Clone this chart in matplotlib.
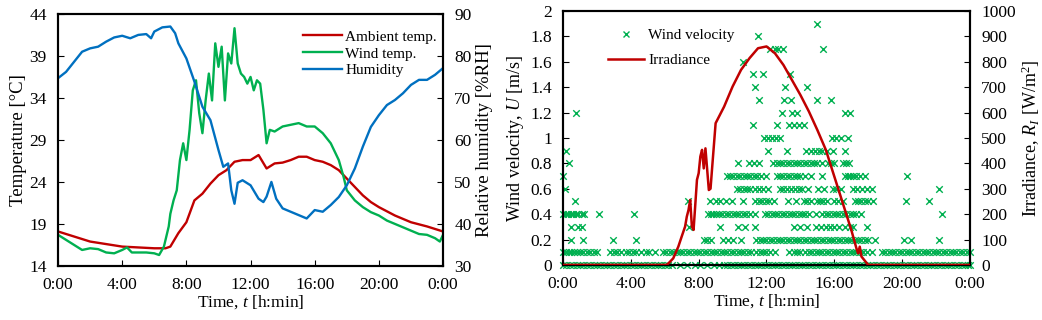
import matplotlib
matplotlib.use("Agg")
import matplotlib.pyplot as plt
from matplotlib.lines import Line2D

plt.rcParams["font.family"] = "Liberation Serif"
plt.rcParams["mathtext.fontset"] = "custom"
plt.rcParams["mathtext.rm"] = "Liberation Serif"
plt.rcParams["mathtext.it"] = "Liberation Serif:italic"
plt.rcParams["font.size"] = 12

RED = "#C00000"
GREEN = "#00B050"
BLUE = "#0070C0"

# ---- left chart data (time in hours) ----
amb_t = [0, 1, 2, 3, 4, 5, 6, 6.7, 7, 7.5, 8, 8.5, 9, 9.5, 10, 10.5, 11, 11.5, 12, 12.5,
         13, 13.5, 14, 14.5, 15, 15.5, 16, 16.5, 17, 17.5, 18, 18.5, 19, 19.5, 20, 21, 22, 23, 24]
amb_v = [18.1, 17.5, 16.9, 16.6, 16.3, 16.2, 16.1, 16.1, 16.3, 17.9, 19.2, 21.8, 22.6, 23.8, 24.8,
         25.4, 26.4, 26.6, 26.6, 27.2, 25.6, 26.2, 26.3, 26.6, 27.0, 27.0, 26.6, 26.4, 26.0, 25.4,
         24.4, 23.4, 22.4, 21.6, 21.0, 20.0, 19.2, 18.7, 18.1]

wind_t = [0, 0.5, 1, 1.5, 2, 2.5, 3, 3.5, 4, 4.3, 4.6, 5, 5.5, 6, 6.3, 6.6, 6.9, 7.0, 7.2, 7.4,
          7.6, 7.8, 8.0, 8.2, 8.4, 8.6, 8.8, 9.0, 9.2, 9.4, 9.6, 9.8, 10.0, 10.2, 10.4, 10.6,
          10.8, 11.0, 11.2, 11.4, 11.6, 11.8, 12.0, 12.2, 12.4, 12.6, 12.8, 13.0, 13.2, 13.5,
          14, 14.5, 15, 15.5, 16, 16.5, 17, 17.5, 17.8, 18, 18.5, 19, 19.5, 20, 20.5, 21, 21.5,
          22, 22.5, 23, 23.5, 23.8, 24]
wind_v = [17.7, 17.1, 16.5, 15.9, 16.1, 16.0, 15.6, 15.5, 15.9, 16.2, 15.6, 15.6, 15.6, 15.5, 15.3,
          16.3, 18.7, 20.2, 21.8, 23.0, 26.6, 28.6, 26.6, 30.2, 34.9, 36.1, 32.2, 29.8, 33.7, 36.9,
          33.7, 40.5, 37.7, 40.1, 33.7, 39.3, 38.1, 42.3, 38.1, 36.9, 36.5, 35.7, 36.5, 34.9, 36.1,
          35.7, 32.6, 28.6, 30.2, 30.0, 30.6, 30.8, 31.0, 30.6, 30.6, 29.8, 28.6, 26.6, 24.6, 23.0,
          21.8, 21.0, 20.4, 20.0, 19.4, 19.0, 18.6, 18.2, 17.8, 17.7, 17.3, 16.9, 17.7]

hum_t = [0, 0.5, 1, 1.5, 2, 2.5, 3, 3.5, 4, 4.5, 5, 5.5, 5.8, 6, 6.5, 7, 7.3, 7.5, 8, 8.5, 9,
         9.5, 10, 10.3, 10.6, 10.8, 11, 11.2, 11.5, 12, 12.5, 12.8, 13, 13.3, 13.6, 14, 14.5,
         15, 15.5, 16, 16.5, 17, 17.5, 18, 18.5, 19, 19.5, 20, 20.5, 21, 21.5, 22, 22.5, 23,
         23.5, 24]
hum_v = [74.7, 76.2, 78.6, 81.0, 81.8, 82.2, 83.4, 84.4, 84.8, 84.2, 85.0, 85.2, 84.2, 85.8, 86.8,
         87.0, 85.4, 83.0, 79.4, 73.9, 67.9, 64.7, 57.6, 53.6, 54.4, 48.0, 44.8, 49.8, 50.4, 49.2,
         46.0, 45.2, 46.5, 50.0, 46.0, 43.7, 42.9, 42.1, 41.3, 43.3, 42.9, 44.5, 46.4, 49.2, 53.2,
         58.4, 63.1, 65.9, 68.3, 69.5, 71.1, 73.1, 74.3, 74.3, 75.5, 77.1]

# ---- right chart data ----
irr_t = [0, 6.1, 6.2, 6.5, 6.8, 7.0, 7.2, 7.3, 7.4, 7.5, 7.6, 7.7, 7.9, 8.0, 8.1, 8.2, 8.3,
         8.4, 8.6, 8.7, 8.8, 9.0, 9.5, 10, 10.5, 11, 11.5, 12, 12.5, 13, 13.5, 14, 14.5, 15,
         15.5, 16, 16.5, 17, 17.3, 17.4, 17.5, 17.6, 18, 24]
irr_v = [0, 0, 5, 26, 72, 112, 151, 190, 216, 256, 151, 138, 335, 361, 427, 453, 380, 459, 295,
         300, 387, 558, 623, 702, 768, 814, 853, 860, 833, 787, 728, 669, 604, 531, 453, 348,
         243, 138, 66, 46, 72, 33, 0, 0]

# wind velocity samples: times (h) at which each level was recorded
u_000 = [0.0, 0.2, 0.4, 0.6, 0.8, 1.0, 1.2, 1.4, 1.6, 1.8, 2.0, 2.2, 2.4, 2.6, 2.8, 3.0, 3.2,
         3.4, 3.6, 3.8, 4.0, 4.2, 4.4, 4.6, 4.8, 5.0, 5.2, 5.4, 5.6, 5.8, 6.0, 6.2, 6.4, 6.9,
         7.3, 7.8, 8.1, 8.5, 8.9, 9.2, 9.5, 9.7, 9.9, 10.1, 10.3, 10.5, 10.7, 10.9, 11.1, 11.3,
         11.5, 11.7, 11.9, 12.1, 12.3, 12.5, 12.7, 12.9, 13.1, 13.3, 13.5, 13.7, 13.9, 14.1,
         14.3, 14.5, 14.7, 14.9, 15.1, 15.3, 15.5, 15.7, 15.9, 16.1, 16.3, 16.5, 16.7, 16.9,
         17.1, 17.3, 17.5, 17.7, 17.9, 18.1, 18.3, 18.5, 18.7, 18.9, 19.1, 19.3, 19.5, 19.7,
         19.9, 20.1, 20.3, 20.5, 20.7, 20.9, 21.1, 21.3, 21.5, 21.7, 21.9, 22.1, 22.3, 22.5,
         22.7, 22.9, 23.1, 23.3, 23.5, 23.7, 23.9, 24.0]
u_010 = [0.0, 0.2, 0.35, 0.5, 0.65, 0.8, 1.0, 1.2, 1.4, 1.6, 1.8, 2.0, 2.8, 3.0, 3.2, 3.45, 3.7,
         3.9, 4.1, 4.3, 4.6, 4.9, 5.1, 5.4, 5.9, 6.1, 6.3, 6.5, 6.7, 6.9, 7.1, 7.3, 7.5, 7.7, 7.9,
         8.1, 8.3, 8.5, 8.7, 8.9, 9.1, 9.3, 9.5, 9.7, 9.9, 10.1, 10.3, 10.5, 10.7, 10.9, 11.1,
         11.4, 11.6, 11.8, 12.0, 12.2, 12.5, 13.3, 13.6, 13.8, 14.0, 14.3, 14.5, 14.7, 14.9,
         15.1, 15.3, 15.5, 15.7, 15.9, 16.1, 16.3, 16.5, 16.7, 16.9, 17.1, 17.3, 17.5, 17.7,
         17.9, 18.2, 18.8, 19.0, 19.2, 19.4, 19.6, 19.8, 20.0, 20.2, 20.4, 20.6, 20.8, 21.0,
         21.2, 21.4, 21.6, 21.8, 22.0, 22.2, 22.4, 22.6, 22.8, 23.0, 23.2, 23.4, 23.6, 23.8, 24.0]
u_020 = [0.45, 1.2, 2.95, 4.3, 8.3, 8.5, 8.75, 9.45, 9.75, 10.0, 10.5, 11.4, 11.6, 11.8, 12.0,
         12.2, 12.4, 12.6, 12.8, 13.0, 13.2, 13.4, 13.6, 13.8, 14.0, 14.2, 14.4, 14.6, 14.8, 15.0,
         15.2, 15.4, 15.6, 15.8, 16.0, 16.2, 16.4, 16.6, 16.8, 17.0, 17.2, 17.4, 17.6, 17.8, 18.0,
         18.4, 20.1, 20.55, 22.2]
u_030 = [0.45, 0.9, 1.15, 7.45, 9.25, 10.3, 10.75, 11.3, 13.6, 14.0, 14.4, 14.9, 15.2, 15.5,
         15.75, 16.0, 16.3, 16.6, 16.9, 17.1, 17.9]
u_040 = [0.0, 0.15, 0.3, 0.45, 0.6, 0.75, 0.9, 1.1, 1.25, 2.15, 4.2, 8.55, 8.7, 8.85, 9.0, 9.2,
         9.4, 9.6, 9.8, 10.0, 10.2, 10.4, 10.6, 10.8, 11.0, 11.3, 11.9, 12.1, 12.3, 12.5, 12.7,
         12.9, 13.1, 13.3, 13.5, 13.7, 13.9, 14.1, 14.3, 14.5, 14.9, 15.3, 15.5, 15.7, 15.9, 16.1,
         16.3, 16.5, 16.7, 16.9, 17.1, 17.3, 17.6, 22.35]
u_050 = [0.7, 7.4, 8.65, 9.05, 9.25, 9.6, 9.95, 10.6, 11.35, 11.55, 11.75, 11.95, 12.15, 12.45,
         13.25, 13.75, 14.2, 14.4, 14.6, 14.95, 15.15, 15.35, 15.55, 16.0, 16.2, 16.5, 17.2,
         17.4, 17.6, 17.8, 18.0, 18.3, 20.25, 21.6]
u_060 = [0.1, 10.25, 10.45, 10.65, 10.85, 11.05, 11.3, 11.55, 11.8, 12.1, 12.8, 13.0, 13.2,
         13.45, 13.7, 13.9, 14.1, 14.45, 15.05, 15.4, 15.9, 16.1, 16.4, 17.1, 17.35, 17.65,
         17.95, 18.25, 22.2]
u_070 = [0.0, 9.65, 9.85, 10.05, 10.25, 10.45, 10.65, 10.85, 11.05, 11.25, 11.45, 11.7, 11.95,
         12.6, 12.8, 13.0, 13.2, 13.4, 13.6, 13.8, 14.0, 14.25, 14.6, 15.3, 16.6, 16.8, 16.95,
         17.1, 17.25, 17.5, 17.8, 20.3]
u_080 = [0.35, 10.3, 10.95, 11.25, 11.55, 12.4, 12.6, 12.8, 13.0, 13.2, 13.4, 13.6, 13.8, 14.0,
         14.2, 14.4, 14.6, 14.8, 15.0, 15.3, 15.6, 15.8, 16.0, 16.5, 16.7, 16.85]
u_090 = [0.2, 12.1, 13.2, 14.35, 14.6, 14.85, 15.1, 15.3, 15.55, 15.9, 16.6]
u_100 = [11.85, 12.1, 12.35, 12.55, 12.8, 15.85, 16.1, 16.4, 16.8]
u_110 = [11.2, 12.6, 13.3, 13.6, 13.9, 14.2]
u_120 = [0.75, 12.9, 13.5, 13.8, 16.6, 16.95]
u_130 = [11.55, 13.05, 13.45, 15.0, 15.8]
u_140 = [11.3, 13.1, 14.4]
u_150 = [11.2, 11.8, 13.4]
u_160 = [10.6]
u_170 = [12.2, 12.5, 12.7, 13.0, 15.35]
u_180 = [11.5]
u_190 = [14.95]

levels = [0.0, 0.1, 0.2, 0.3, 0.4, 0.5, 0.6, 0.7, 0.8, 0.9, 1.0, 1.1, 1.2, 1.3, 1.4, 1.5, 1.6,
          1.7, 1.8, 1.9]
level_times = [u_000, u_010, u_020, u_030, u_040, u_050, u_060, u_070, u_080, u_090, u_100,
               u_110, u_120, u_130, u_140, u_150, u_160, u_170, u_180, u_190]

x_ticks = [0, 4, 8, 12, 16, 20, 24]
x_labels = ["0:00", "4:00", "8:00", "12:00", "16:00", "20:00", "0:00"]

fig = plt.figure(figsize=(10.42, 3.2), dpi=100)


def style(ax):
    ax.tick_params(direction="in", length=4, width=0.8, labelsize=12.5)
    ax.tick_params(axis="x", pad=8)
    ax.tick_params(axis="y", pad=8)
    for s in ax.spines.values():
        s.set_linewidth(1.5)


# ---------------- left ----------------
ax1 = fig.add_axes([0.0557, 0.169, 0.3695, 0.7875])
ax1.plot(amb_t, amb_v, color=RED, lw=1.7, label="Ambient temp.")
ax1.plot(wind_t, wind_v, color=GREEN, lw=1.7, label="Wind temp.")
ax1.set_xlim(0, 24)
ax1.set_ylim(14, 44)
ax1.set_yticks([14, 19, 24, 29, 34, 39, 44])
ax1.set_xticks(x_ticks)
ax1.set_xticklabels(x_labels)
ax1.set_ylabel("Temperature [°C]", fontsize=13.5, labelpad=2)
ax1.set_xlabel("Time, $t$ [h:min]", fontsize=12.5, labelpad=0)
style(ax1)

ax1b = ax1.twinx()
ax1b.plot(hum_t, hum_v, color=BLUE, lw=1.7, label="Humidity")
ax1b.set_ylim(30, 90)
ax1b.set_yticks([30, 40, 50, 60, 70, 80, 90])
ax1b.set_ylabel("Relative humidity [%RH]", fontsize=13.5, labelpad=3)
style(ax1b)

h1, l1 = ax1.get_legend_handles_labels()
h2, l2 = ax1b.get_legend_handles_labels()
ax1b.legend(h1 + h2, l1 + l2, loc="upper right", frameon=False, fontsize=11,
            handlelength=2.5, handletextpad=0.25, labelspacing=0.2,
            borderaxespad=0.0, bbox_to_anchor=(1.0, 0.96))

# ---------------- right ----------------
ax2 = fig.add_axes([0.5403, 0.172, 0.3906, 0.794])
for lev, times in zip(levels, level_times):
    ax2.scatter(times, [lev] * len(times), marker="x", s=22, color=GREEN,
                linewidths=1.0, zorder=2, clip_on=False)
ax2.set_xlim(0, 24)
ax2.set_ylim(0, 2)
ax2.set_yticks([0, 0.2, 0.4, 0.6, 0.8, 1, 1.2, 1.4, 1.6, 1.8, 2])
ax2.set_yticklabels(["0", "0.2", "0.4", "0.6", "0.8", "1", "1.2", "1.4", "1.6", "1.8", "2"])
ax2.set_xticks(x_ticks)
ax2.set_xticklabels(x_labels)
ax2.set_ylabel("Wind velocity, $U$ [m/s]", fontsize=13, labelpad=3)
ax2.set_xlabel("Time, $t$ [h:min]", fontsize=12.5, labelpad=0)
style(ax2)

ax2b = ax2.twinx()
ax2b.plot(irr_t, irr_v, color=RED, lw=1.8, zorder=3)
ax2b.set_ylim(0, 1000)
ax2b.set_yticks(range(0, 1001, 100))
ax2b.set_ylabel("Irradiance, $R_I$ [W/m$^2$]", fontsize=13, labelpad=3)
style(ax2b)

leg_handles = [Line2D([], [], ls="none", marker="x", color=GREEN, markersize=5, mew=1.0),
               Line2D([], [], color=RED, lw=1.8)]
ax2b.legend(leg_handles, ["Wind velocity", "Irradiance"], loc="upper left", frameon=False,
            fontsize=11, handlelength=2.4, handletextpad=0.25, labelspacing=0.75,
            borderaxespad=0.0, bbox_to_anchor=(0.095, 0.955))

fig.savefig("out.png", dpi=100)
